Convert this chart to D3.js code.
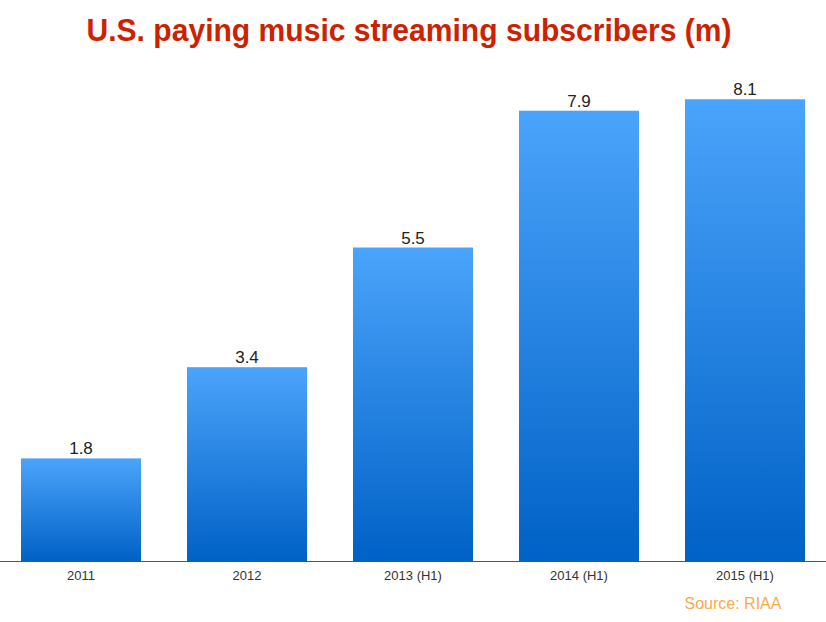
<!DOCTYPE html>
<html>
<head>
    <meta charset="utf-8">
    <title>U.S. paying music streaming subscribers</title>
    <script src="https://d3js.org/d3.v7.min.js"></script>
    <style>
        body { margin: 0; background: #fff; }
        svg { display: block; }
    </style>
</head>
<body>
    <svg id="chart" width="826" height="622"></svg>
    <script>
        // data
        const years = ["2011", "2012", "2013 (H1)", "2014 (H1)", "2015 (H1)"];
        const subscribers = [1.8, 3.4, 5.5, 7.9, 8.1];
        const titleText = "U.S. paying music streaming subscribers (m)";
        const sourceText = "Source: RIAA";

        const svg = d3.select("#chart");
        const baseY = 561;

        const x = d3.scaleBand()
            .domain(years)
            .range([-2, 828])
            .paddingInner(0.277)
            .paddingOuter(0.1385);

        const y = d3.scaleLinear()
            .domain([0, 9])
            .range([baseY, 48]);

        // vertical gradient, one per bar (bounding box units)
        const grad = svg.append("defs").append("linearGradient")
            .attr("id", "barGrad")
            .attr("x1", 0).attr("y1", 0)
            .attr("x2", 0).attr("y2", 1);
        grad.append("stop").attr("offset", "0%").attr("stop-color", "#4ba4fb");
        grad.append("stop").attr("offset", "100%").attr("stop-color", "#0061c6");

        // title
        svg.append("text")
            .attr("x", 409)
            .attr("y", 41)
            .attr("text-anchor", "middle")
            .attr("textLength", 645)
            .attr("lengthAdjust", "spacingAndGlyphs")
            .style("font-family", "'Liberation Sans Narrow', 'Liberation Sans', Arial, sans-serif")
            .style("font-weight", "bold")
            .style("font-size", "32px")
            .style("fill", "#cc2200")
            .text(titleText);

        // bars
        svg.selectAll("rect.bar")
            .data(subscribers)
            .enter().append("rect")
            .attr("class", "bar")
            .attr("x", (d, i) => x(years[i]))
            .attr("y", d => y(d))
            .attr("width", x.bandwidth())
            .attr("height", d => baseY - y(d))
            .attr("fill", "url(#barGrad)");

        // value labels
        svg.selectAll("text.val")
            .data(subscribers)
            .enter().append("text")
            .attr("class", "val")
            .attr("x", (d, i) => x(years[i]) + x.bandwidth() / 2)
            .attr("y", d => y(d) - 4)
            .attr("text-anchor", "middle")
            .style("font-family", "'Liberation Sans', Arial, sans-serif")
            .style("font-size", "17px")
            .style("fill", "#222")
            .text(d => d.toFixed(1));

        // x axis
        const xAxis = svg.append("g")
            .attr("transform", "translate(0," + baseY + ")")
            .call(d3.axisBottom(x).tickSize(0).tickPadding(10));
        xAxis.select(".domain")
            .attr("d", "M0,0.5H826")
            .attr("stroke", "#555")
            .attr("stroke-width", 1.2);
        xAxis.selectAll("text")
            .style("font-family", "'Liberation Sans', Arial, sans-serif")
            .style("font-size", "13px")
            .style("fill", "#333");

        // source
        svg.append("text")
            .attr("x", 733)
            .attr("y", 609)
            .attr("text-anchor", "middle")
            .style("font-family", "'Liberation Sans', Arial, sans-serif")
            .style("font-size", "16px")
            .style("fill", "#f9a94b")
            .text(sourceText);
    </script>
</body>
</html>
